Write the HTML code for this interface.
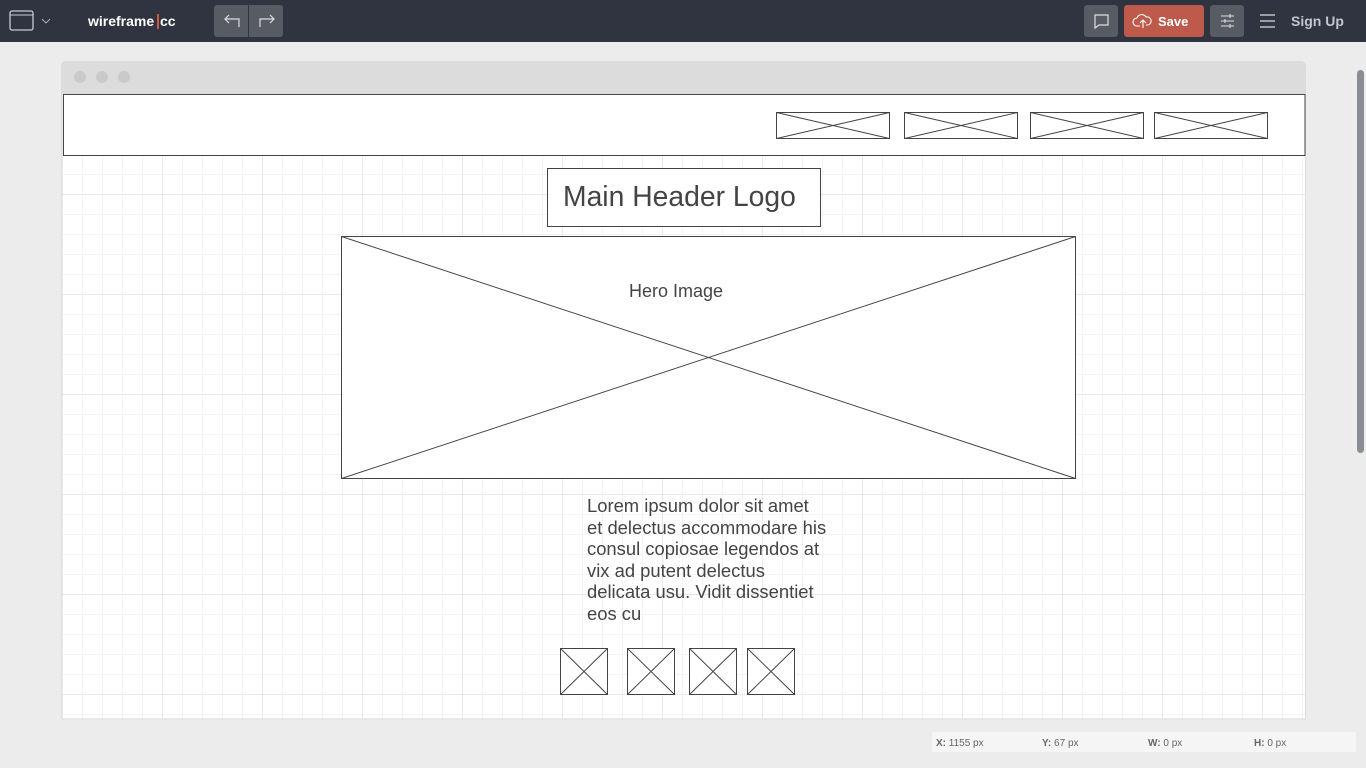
<!DOCTYPE html>
<html><head><meta charset="utf-8"><style>
html,body{margin:0;padding:0;width:1366px;height:768px;overflow:hidden;background:#ececec;font-family:"Liberation Sans",sans-serif;}
</style></head><body>
<svg width="1366" height="768" xmlns="http://www.w3.org/2000/svg" style="display:block">
<defs>
<pattern id="minor" x="62" y="94" width="20" height="20" patternUnits="userSpaceOnUse">
<path d="M0 0H20M0 0V20" stroke="#e8e8e8" stroke-width="1" fill="none"/>
</pattern>
<pattern id="major" x="62" y="94" width="100" height="100" patternUnits="userSpaceOnUse">
<path d="M0 0H100M0 0V100" stroke="#dcdcdc" stroke-width="1.2" fill="none"/>
</pattern>
</defs>
<rect x="0" y="0" width="1366" height="42" fill="#2f3440"/>
<rect x="10" y="11" width="23" height="19" rx="2" fill="none" stroke="#c8cbd0" stroke-width="1.3"/>
<line x1="10" y1="15" x2="33" y2="15" stroke="#c8cbd0" stroke-width="1"/>
<path d="M42 19l4 4 4-4" fill="none" stroke="#aab" stroke-width="1"/>
<text x="88" y="26" font-size="14" font-weight="bold" fill="#fff">wireframe</text>
<rect x="157" y="14" width="2" height="15" fill="#d0563f"/>
<text x="160" y="26" font-size="14" font-weight="bold" fill="#fff">cc</text>
<rect x="214" y="5" width="69" height="32" rx="3" fill="#575b64"/>
<line x1="248.5" y1="5" x2="248.5" y2="37" stroke="#2f3440"/>
<path d="M229 15l-4 4 4 4M225 19h14v8" fill="none" stroke="#ddd" stroke-width="1.2"/>
<path d="M270 15l4 4-4 4M274 19h-14v8" fill="none" stroke="#ddd" stroke-width="1.2"/>
<rect x="1084" y="5" width="34" height="32" rx="3" fill="#575b64"/>
<path d="M1095 15h13v10h-9l-4 3z" fill="none" stroke="#ddd" stroke-width="1.2"/>
<rect x="1124" y="5" width="80" height="32" rx="3" fill="#bd5a4c"/>
<path d="M1140 26h-3a4 4 0 0 1 0-8a5 5 0 0 1 9-1a4 4 0 0 1 2 8h-2M1143 28v-8m-3 3l3-3 3 3" fill="none" stroke="#fff" stroke-width="1.1"/>
<text x="1158" y="26" font-size="13" font-weight="bold" fill="#fff">Save</text>
<rect x="1210" y="5" width="34" height="32" rx="3" fill="#575b64"/>
<path d="M1221 16h13M1221 21h13M1221 26h13M1230 14v4M1225 19v4M1230 24v4" stroke="#ddd" stroke-width="1.1"/>
<path d="M1260 15h15M1260 21h15M1260 27h15" stroke="#ddd" stroke-width="1.3"/>
<text x="1291" y="26" font-size="14" font-weight="bold" fill="#c3c6cc">Sign Up</text>
<rect x="1357" y="70" width="7" height="383" rx="3.5" fill="#8a8d93"/>
<rect x="61" y="61" width="1245" height="40" rx="5" fill="#dcdcdc"/>
<circle cx="80" cy="77" r="6" fill="#cacaca"/><circle cx="102" cy="77" r="6" fill="#cacaca"/><circle cx="124" cy="77" r="6" fill="#cacaca"/>
<rect x="62" y="94" width="1244" height="625" fill="#fff"/>
<rect x="62" y="94" width="1244" height="625" fill="url(#minor)"/>
<rect x="62" y="94" width="1244" height="625" fill="url(#major)"/>
<rect x="61.5" y="94" width="1244" height="625" fill="none" stroke="#dedede"/>
<g stroke="#444" fill="#fff" stroke-width="1">
<rect x="63.5" y="94.5" width="1241.5" height="61"/>
<rect x="776.5" y="112.5" width="113" height="26"/><path d="M776.5 112.5L889.5 138.5M889.5 112.5L776.5 138.5"/>
<rect x="904.5" y="112.5" width="113" height="26"/><path d="M904.5 112.5L1017.5 138.5M1017.5 112.5L904.5 138.5"/>
<rect x="1030.5" y="112.5" width="113" height="26"/><path d="M1030.5 112.5L1143.5 138.5M1143.5 112.5L1030.5 138.5"/>
<rect x="1154.5" y="112.5" width="113" height="26"/><path d="M1154.5 112.5L1267.5 138.5M1267.5 112.5L1154.5 138.5"/>
<rect x="547.5" y="168.5" width="273" height="58"/>
<rect x="341.5" y="236.5" width="734" height="242"/><path d="M341.5 236.5L1075.5 478.5M1075.5 236.5L341.5 478.5"/>
<rect x="560.5" y="648.5" width="47" height="46"/><path d="M560.5 648.5L607.5 694.5M607.5 648.5L560.5 694.5"/>
<rect x="627.5" y="648.5" width="47" height="46"/><path d="M627.5 648.5L674.5 694.5M674.5 648.5L627.5 694.5"/>
<rect x="689.5" y="648.5" width="47" height="46"/><path d="M689.5 648.5L736.5 694.5M736.5 648.5L689.5 694.5"/>
<rect x="747.5" y="648.5" width="47" height="46"/><path d="M747.5 648.5L794.5 694.5M794.5 648.5L747.5 694.5"/>
</g>
<text x="563" y="206" font-size="28.3" fill="#444">Main Header Logo</text>
<text x="629" y="297" font-size="18" fill="#444">Hero Image</text>
<g font-size="18.4" fill="#444">
<text x="587" y="512">Lorem ipsum dolor sit amet</text>
<text x="587" y="534">et delectus accommodare his</text>
<text x="587" y="555">consul copiosae legendos at</text>
<text x="587" y="577">vix ad putent delectus</text>
<text x="587" y="598">delicata usu. Vidit dissentiet</text>
<text x="587" y="620">eos cu</text>
</g>
<rect x="932" y="732" width="424" height="20" fill="#f5f5f5"/>
<g font-size="10" fill="#666">
<text x="936" y="746"><tspan font-weight="bold">X:</tspan> 1155 px</text>
<text x="1042" y="746"><tspan font-weight="bold">Y:</tspan> 67 px</text>
<text x="1148" y="746"><tspan font-weight="bold">W:</tspan> 0 px</text>
<text x="1254" y="746"><tspan font-weight="bold">H:</tspan> 0 px</text>
</g>
</svg>
</body></html>
